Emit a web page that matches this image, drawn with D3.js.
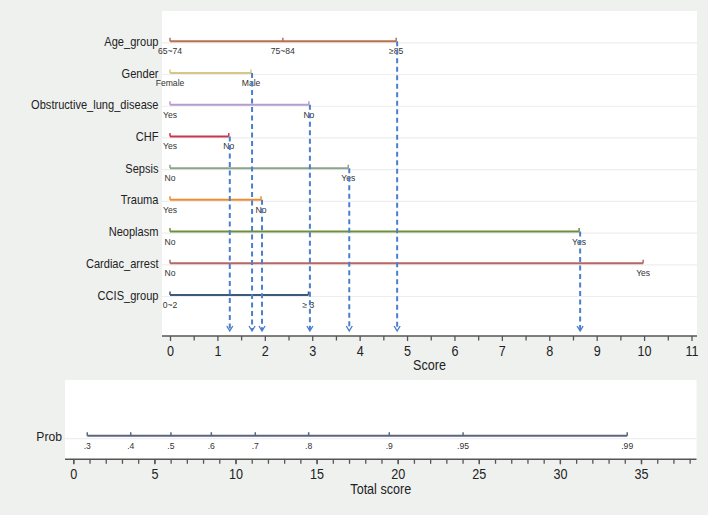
<!DOCTYPE html>
<html>
<head>
<meta charset="utf-8">
<script src="https://cdn.jsdelivr.net/npm/d3@7"></script>
<style>
  body { margin: 0; background: #eff1ef; }
  svg { display: block; font-family: "Liberation Sans", Arial, sans-serif; }
</style>
</head>
<body>
<svg id="chart" width="708" height="515"></svg>
<script>
// nomogram values
var variables = ["Age_group", "Gender", "Obstructive_lung_disease", "CHF", "Sepsis",
                 "Trauma", "Neoplasm", "Cardiac_arrest", "CCIS_group"];
var levelLabels = [["65~74", "75~84", "≥85"], ["Female", "Male"], ["Yes", "No"], ["Yes", "No"],
                   ["No", "Yes"], ["Yes", "No"], ["No", "Yes"], ["No", "Yes"], ["0~2", "≥ 3"]];
var levelPoints = [[0, 2.38, 4.77], [0, 1.71], [0, 2.93], [0, 1.24], [0, 3.76],
                   [0, 1.92], [0, 8.63], [0, 9.98], [0, 2.92]];
// which level is marked with an arrow (null = none)
var selectedLevel = [2, 1, 1, 1, 1, 1, 1, null, null];
var rowColors = ["#b8714f", "#d5c886", "#b69bcd", "#c8364a", "#8da38a",
                 "#f08a2f", "#6f8f40", "#b66666", "#3f597a"];
var scoreTicks = [0, 1, 2, 3, 4, 5, 6, 7, 8, 9, 10, 11];

var probLabels = [".3", ".4", ".5", ".6", ".7", ".8", ".9", ".95", ".99"];
var probScores = [0.86, 3.54, 6.02, 8.51, 11.22, 14.51, 19.48, 24.03, 34.15];
var totalTicks = [0, 5, 10, 15, 20, 25, 30, 35];

var svg = d3.select("#chart");
var font = "Liberation Sans, Arial, sans-serif";
var squeeze = "scale(0.9,1)"; // the source text is a bit narrower than Arial

// ---------- top panel ----------
var upper = { x0: 162, x1: 697, y0: 11, y1: 336 };

svg.append("rect")
    .attr("x", upper.x0).attr("y", upper.y0)
    .attr("width", upper.x1 - upper.x0).attr("height", upper.y1 - upper.y0)
    .attr("fill", "#ffffff");

var x = d3.scaleLinear().domain([0, 11]).range([170, 691.5]);
var y = d3.scalePoint().domain(variables).range([41.3, 295]);

// faint grid lines behind each row
svg.append("g").selectAll("line")
    .data(variables)
    .enter()
    .append("line")
    .attr("x1", upper.x0).attr("x2", upper.x1)
    .attr("y1", function (d) { return y(d) + 1.5; })
    .attr("y2", function (d) { return y(d) + 1.5; })
    .attr("stroke", "#eeeeee")
    .attr("stroke-width", 1.2);

// row labels
svg.append("g").selectAll("text")
    .data(variables)
    .enter()
    .append("text")
    .attr("transform", function (d) { return "translate(158.5," + (y(d) + 4.5) + ") scale(0.84,1)"; })
    .attr("text-anchor", "end")
    .attr("font-size", 13.2)
    .attr("fill", "#222")
    .text(function (d) { return d; });

var rows = svg.append("g").selectAll("g")
    .data(variables)
    .enter()
    .append("g");

rows.append("line")
    .attr("x1", x(0))
    .attr("x2", function (d, i) { return x(d3.max(levelPoints[i])); })
    .attr("y1", function (d) { return y(d); })
    .attr("y2", function (d) { return y(d); })
    .attr("stroke", function (d, i) { return rowColors[i]; })
    .attr("stroke-width", 2);

rows.each(function (d, i) {
  var g = d3.select(this);
  var pts = levelPoints[i].map(function (v, j) { return { v: v, label: levelLabels[i][j] }; });
  g.selectAll(".tk")
      .data(pts)
      .enter()
      .append("line")
      .attr("x1", function (p) { return x(p.v); })
      .attr("x2", function (p) { return x(p.v); })
      .attr("y1", y(d) - 3.5)
      .attr("y2", y(d))
      .attr("stroke", rowColors[i])
      .attr("stroke-width", 1.5);
  g.selectAll(".lb")
      .data(pts)
      .enter()
      .append("text")
      .attr("x", function (p) { return x(p.v); })
      .attr("y", y(d) + 13)
      .attr("text-anchor", "middle")
      .attr("font-size", 8.6)
      .attr("fill", "#333")
      .text(function (p) { return p.label; });
});

// dashed arrows from chosen levels down to the score axis
var arrowEnd = 331;
var arrows = variables
    .map(function (d, i) {
      return selectedLevel[i] === null ? null : { v: levelPoints[i][selectedLevel[i]], row: d };
    })
    .filter(function (a) { return a !== null; });

svg.append("g").selectAll("line")
    .data(arrows)
    .enter()
    .append("line")
    .attr("x1", function (a) { return x(a.v) + 1; })
    .attr("x2", function (a) { return x(a.v) + 1; })
    .attr("y1", function (a) { return y(a.row); })
    .attr("y2", arrowEnd - 1)
    .attr("stroke", "#4a7fcc")
    .attr("stroke-width", 2)
    .attr("stroke-dasharray", "5,3.5");

svg.append("g").selectAll("path")
    .data(arrows)
    .enter()
    .append("path")
    .attr("d", function (a) {
      var cx = x(a.v) + 1;
      return "M" + (cx - 3) + "," + (arrowEnd - 5) + "L" + cx + "," + arrowEnd + "L" + (cx + 3) + "," + (arrowEnd - 5);
    })
    .attr("fill", "none")
    .attr("stroke", "#4a7fcc")
    .attr("stroke-width", 1.4);

// score axis
svg.append("line")
    .attr("x1", upper.x0).attr("x2", upper.x1)
    .attr("y1", upper.y1).attr("y2", upper.y1)
    .attr("stroke", "#555").attr("stroke-width", 1.5);

var minorScore = d3.range(0.5, 11, 1);
svg.append("g")
    .attr("transform", "translate(0," + upper.y1 + ")")
    .call(d3.axisBottom(x).tickValues(minorScore).tickSize(4.5).tickFormat(""))
    .call(function (g) { g.select(".domain").remove(); })
    .selectAll("line").attr("stroke", "#555").attr("stroke-width", 1.3);

var scoreAxis = svg.append("g")
    .attr("transform", "translate(0," + upper.y1 + ")")
    .call(d3.axisBottom(x).tickValues(scoreTicks).tickSize(5).tickPadding(5).tickFormat(d3.format("d")));
scoreAxis.select(".domain").remove();
scoreAxis.selectAll("line").attr("stroke", "#555").attr("stroke-width", 1.3);
scoreAxis.selectAll("text")
    .attr("font-family", font).attr("font-size", 14).attr("fill", "#222")
    .attr("transform", squeeze);

svg.append("text")
    .attr("transform", "translate(" + (upper.x0 + upper.x1) / 2 + ",370) " + squeeze)
    .attr("text-anchor", "middle")
    .attr("font-size", 14)
    .attr("fill", "#222")
    .text("Score");

// ---------- bottom panel ----------
var lower = { x0: 65, x1: 696.5, y0: 380, y1: 459.3 };

svg.append("rect")
    .attr("x", lower.x0).attr("y", lower.y0)
    .attr("width", lower.x1 - lower.x0).attr("height", lower.y1 - lower.y0)
    .attr("fill", "#ffffff");

var xt = d3.scaleLinear().domain([0, 35]).range([73.3, 641]);
var probY = 435.7;

svg.append("line")
    .attr("x1", lower.x0).attr("x2", lower.x1)
    .attr("y1", probY + 3).attr("y2", probY + 3)
    .attr("stroke", "#eeeeee").attr("stroke-width", 1.2);

svg.append("text")
    .attr("transform", "translate(62," + (probY + 5) + ") " + squeeze)
    .attr("text-anchor", "end")
    .attr("font-size", 13.5)
    .attr("fill", "#222")
    .text("Prob");

svg.append("line")
    .attr("x1", xt(d3.min(probScores))).attr("x2", xt(d3.max(probScores)))
    .attr("y1", probY).attr("y2", probY)
    .attr("stroke", "#5b6580").attr("stroke-width", 2);

svg.append("g").selectAll("line")
    .data(probScores)
    .enter()
    .append("line")
    .attr("x1", function (d) { return xt(d); })
    .attr("x2", function (d) { return xt(d); })
    .attr("y1", probY - 3.5)
    .attr("y2", probY)
    .attr("stroke", "#5b6580")
    .attr("stroke-width", 1.5);

svg.append("g").selectAll("text")
    .data(probScores)
    .enter()
    .append("text")
    .attr("x", function (d) { return xt(d); })
    .attr("y", probY + 13)
    .attr("text-anchor", "middle")
    .attr("font-size", 8.6)
    .attr("fill", "#333")
    .text(function (d, i) { return probLabels[i]; });

// total score axis
svg.append("line")
    .attr("x1", lower.x0).attr("x2", lower.x1)
    .attr("y1", lower.y1).attr("y2", lower.y1)
    .attr("stroke", "#555").attr("stroke-width", 1.5);

var minorTotal = d3.range(0, 39, 1);
svg.append("g")
    .attr("transform", "translate(0," + lower.y1 + ")")
    .call(d3.axisBottom(xt).tickValues(minorTotal).tickSize(4.5).tickFormat(""))
    .call(function (g) { g.select(".domain").remove(); })
    .selectAll("line").attr("stroke", "#555").attr("stroke-width", 1.3);

var totalAxis = svg.append("g")
    .attr("transform", "translate(0," + lower.y1 + ")")
    .call(d3.axisBottom(xt).tickValues(totalTicks).tickSize(5).tickPadding(5).tickFormat(d3.format("d")));
totalAxis.select(".domain").remove();
totalAxis.selectAll("line").attr("stroke", "#555").attr("stroke-width", 1.3);
totalAxis.selectAll("text")
    .attr("font-family", font).attr("font-size", 14).attr("fill", "#222")
    .attr("transform", squeeze);

svg.append("text")
    .attr("transform", "translate(" + (lower.x0 + lower.x1) / 2 + ",494) " + squeeze)
    .attr("text-anchor", "middle")
    .attr("font-size", 14)
    .attr("fill", "#222")
    .text("Total score");
</script>
</body>
</html>
